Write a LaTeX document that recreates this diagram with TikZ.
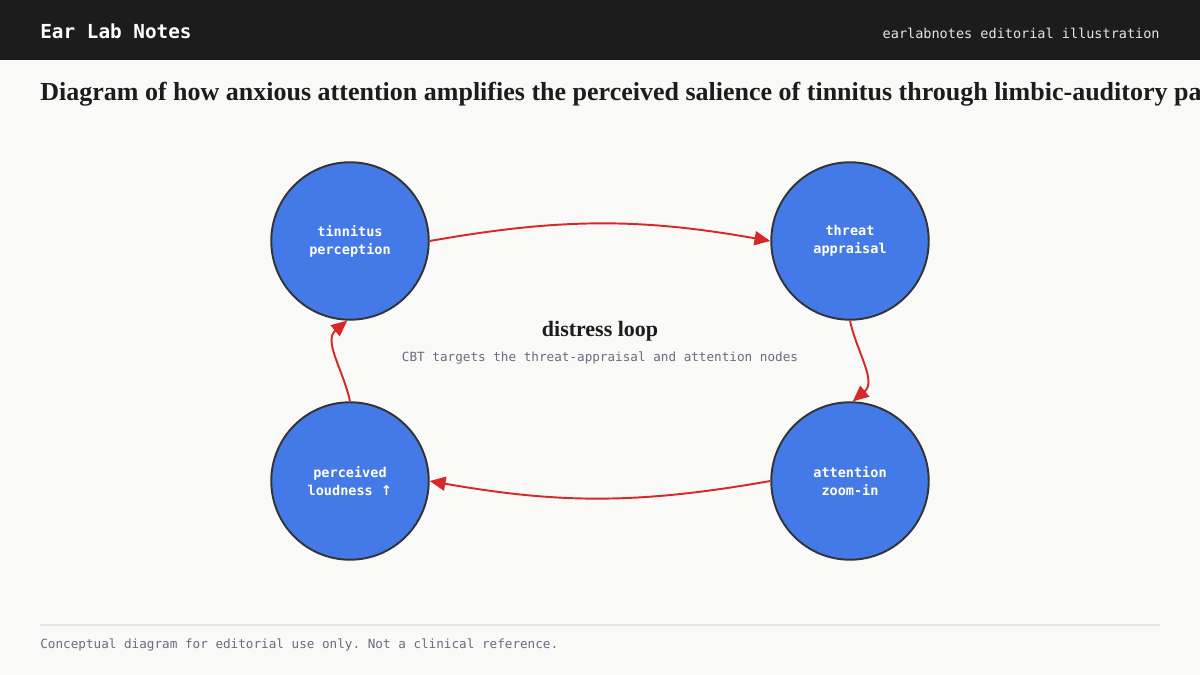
\documentclass[tikz,border=0pt]{standalone}
\usepackage{fontspec}
\setmainfont{Liberation Serif}
\setmonofont{DejaVu Sans Mono}
\newfontfamily\arrowfont{DejaVu Sans}
\usetikzlibrary{arrows.meta}
\definecolor{headbg}{HTML}{1C1C1C}
\definecolor{pagebg}{HTML}{F9F9F7}
\definecolor{nodeblue}{HTML}{4479E8}
\definecolor{rimgray}{HTML}{333333}
\definecolor{loopred}{HTML}{D62828}
\definecolor{notegray}{HTML}{6B6B80}
\definecolor{rulegray}{HTML}{E6E6E4}
\tikzset{stage/.style={circle,draw=rimgray,line width=1.1pt,fill=nodeblue,minimum size=3.15cm,
                       inner sep=0pt,align=center,text=white,font=\ttfamily\bfseries\fontsize{7.7}{10.2}\selectfont},
         feed/.style={draw=loopred,line width=1.1pt,-{Triangle[length=9pt,width=8pt]}},
         note/.style={text=notegray,font=\ttfamily\fontsize{7.2}{9}\selectfont,inner sep=0pt},
        }

\begin{document}
\begin{tikzpicture}[x=0.02cm,y=0.02cm]
        \useasboundingbox (0,0) rectangle (1200,675);
        \fill[pagebg](0,0)rectangle(1200,675);
        \fill[headbg](0,615)rectangle(1200,675);
        \node[anchor=west,inner sep=0pt,text=white,font=\ttfamily\bfseries\fontsize{11}{13}\selectfont](brand)at(40,644){Ear Lab Notes};
        \node[anchor=east,inner sep=0pt,text=white!90!black,font=\ttfamily\fontsize{7.7}{9}\selectfont](tag)at(1160,642){earlabnotes editorial illustration};
        \node[anchor=west,inner sep=0pt,text=headbg,font=\bfseries\fontsize{14.8}{17}\selectfont](title)at(40,581){Diagram of how anxious attention amplifies the perceived salience of tinnitus through limbic-auditory pathways};

        \node[stage](tin)at(350,434){tinnitus\\perception};
        \node[stage](thr)at(850,434){threat\\appraisal};
        \node[stage](att)at(850,194){attention\\zoom-in};
        \node[stage](lou)at(350,194){perceived\\loudness {\arrowfont\bfseries ↑}};

        \draw[feed](tin.0)to[out=10,in=170](thr.180);
        \draw[feed](thr.270)to[out=-78,in=40](att.88);
        \draw[feed](att.180)to[out=190,in=-10](lou.0);
        \draw[feed](lou.90)to[out=102,in=220](tin.268);

        \node[text=headbg,font=\bfseries\fontsize{12.5}{14}\selectfont,inner sep=0pt](loopname)at(600,344){distress loop};
        \node[note](loopnote)at(600,317){CBT targets the threat-appraisal and attention nodes};

        \draw[rulegray,line width=0.6pt](40,50)--(1160,50);
        \node[note,anchor=west](foot)at(40,30){Conceptual diagram for editorial use only. Not a clinical reference.};
    \end{tikzpicture}
\end{document}
